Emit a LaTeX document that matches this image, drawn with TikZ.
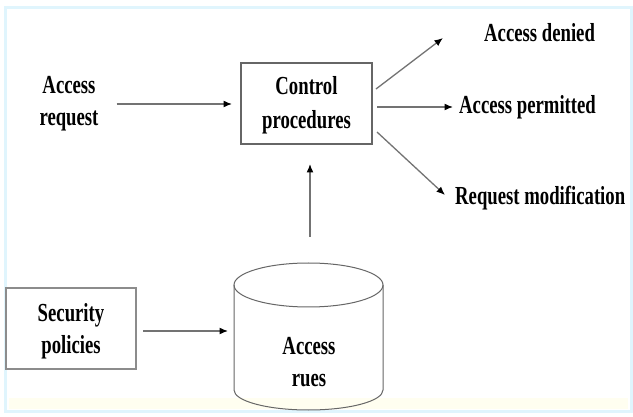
\documentclass[tikz,border=0pt]{standalone}
\usepackage{fontspec}
\setmainfont{Liberation Serif}[FakeStretch=0.72]
\usetikzlibrary{arrows.meta}

\tikzset{
  lbl/.style={font=\bfseries\fontsize{26}{32}\selectfont, text=black, inner sep=0pt, align=center},
  flow/.style={draw=black!55, line width=1.3pt, -{Latex[length=8.5pt,width=7pt,color=black]}},
  boxed/.style={draw=black!60, line width=1.1pt},
}

\begin{document}
\begin{tikzpicture}[x=1pt,y=-1pt]
  % canvas and faint frame
  \fill[white] (0,0) rectangle (633,417);
  \useasboundingbox (0,0) rectangle (633,417);
  \draw[cyan!12, line width=3pt] (5,8) rectangle (631,411);
  \fill[yellow!6] (9,398) rectangle (628,409);

  % control box
  \draw[boxed] (241,63) rectangle (372,144);
  \node[lbl, font=\bfseries\fontsize{26}{34}\selectfont] (ctrl) at (306.5,105) {Control\\procedures};
  \coordinate (ctrlW) at (241,104);
  \coordinate (ctrlS) at (310,144);

  % request input
  \node[lbl] (req) at (69,104) {Access\\request};

  % security policies box
  \draw[boxed, draw=black!45] (6,288) rectangle (136,369);
  \node[lbl] (sec) at (71,331) {Security\\policies};

  % access rules store
  \draw[black!60, line width=1pt]
    (234,285) -- (234,390)
    arc[start angle=180, end angle=0, x radius=74.5, y radius=20]
    -- (383,285);
  \draw[black!60, line width=1pt] (308.5,285) ellipse[x radius=74.5, y radius=22];
  \node[lbl] (rules) at (309,362) {Access\\rues};
  \coordinate (rulesW) at (234,331);
  \coordinate (rulesN) at (310,263);

  % outcomes
  \node[lbl, anchor=west] (deny) at (484,33) {Access denied};
  \node[lbl, anchor=west] (perm) at (459,107) {Access permitted};
  \node[lbl, anchor=west] (modi) at (455,198) {Request modification};

  % connectors
  \draw[flow] (req.east) ++(18,0) coordinate (reqE) (reqE) -- ([xshift=-9pt]ctrlW);
  \draw[flow] ([yshift=26pt]rulesN) -- ([yshift=-20pt]ctrlS);
  \draw[flow] ([xshift=-91pt]rulesW) -- ([xshift=-6pt]rulesW);
  \coordinate (o1) at (376,89);
  \coordinate (o2) at (377,107);
  \coordinate (o3) at (377,132);
  \coordinate (t1) at (443,38);
  \coordinate (t3) at (445,195);
  \draw[flow] (o1) -- (t1);
  \draw[flow] (o2) -- ([xshift=-6pt]perm.west);
  \draw[flow] (o3) -- (t3);
\end{tikzpicture}
\end{document}
